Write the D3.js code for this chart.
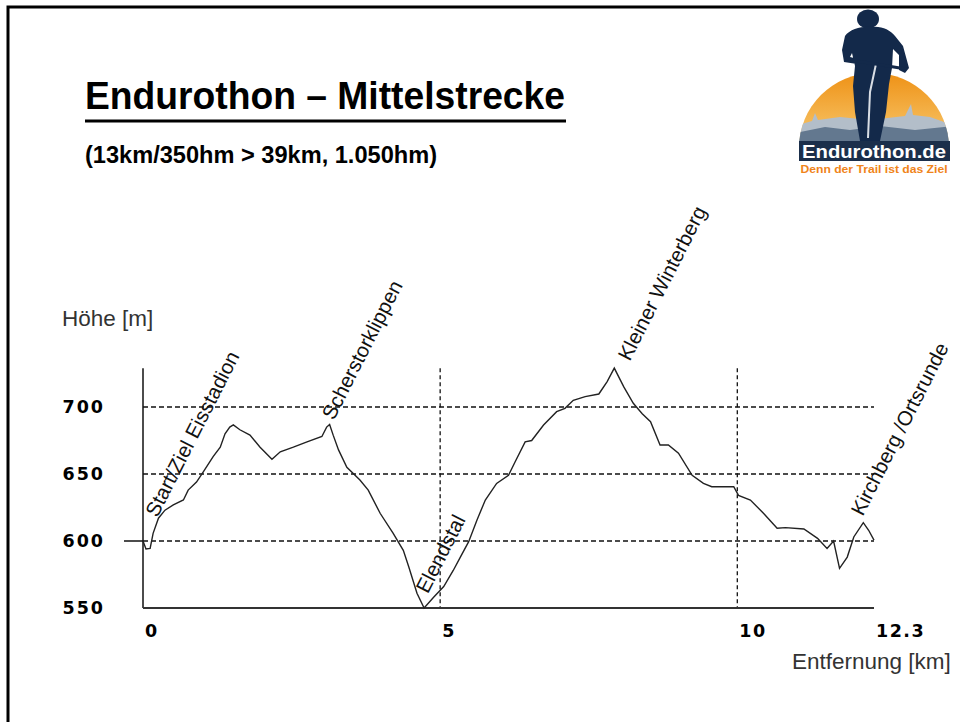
<!DOCTYPE html>
<html>
<head>
<meta charset="utf-8">
<script src="https://cdn.jsdelivr.net/npm/d3@7"></script>
<style>
    html, body { margin: 0; padding: 0; background: #fff; }
    svg { display: block; }
</style>
</head>
<body>
<div id="chart"></div>
<script>
// Höhenprofil (km / m)
const profileKm = [0.00, 0.05, 0.12, 0.17, 0.26, 0.37, 0.51, 0.68, 0.76, 0.90, 1.02, 1.18, 1.30, 1.38, 1.46, 1.52,
    1.63, 1.80, 1.97, 2.17, 2.31, 2.53, 2.76, 3.01, 3.09, 3.14, 3.20, 3.29, 3.43, 3.65, 3.79, 3.99, 4.21, 4.38,
    4.47, 4.61, 4.73, 4.89, 5.06, 5.22, 5.34, 5.48, 5.62, 5.76, 5.95, 6.15, 6.26, 6.43, 6.54, 6.74, 6.96, 7.10,
    7.24, 7.44, 7.67, 7.81, 7.93, 8.09, 8.25, 8.40, 8.54, 8.70, 8.84, 9.01, 9.24, 9.43, 9.57, 9.94, 10.02, 10.22,
    10.44, 10.67, 10.81, 11.12, 11.35, 11.51, 11.62, 11.72, 11.85, 11.96, 12.12, 12.21, 12.30];
const profileElev = [600, 594, 594.5, 605.7, 617, 623, 627, 630.6, 638, 644, 652, 663, 670, 680, 685, 686.6,
    683, 679, 670, 661, 666.6, 670, 674, 678, 685, 687, 679, 668, 655, 645.5, 638, 620.7, 605.7, 593,
    581, 561, 550, 558, 566, 578, 588, 599.5, 615.7, 630.6, 643, 649, 659, 674, 675, 686.6, 696.5, 699,
    705, 707.7, 709.7, 719, 729, 715, 702.8, 695, 689, 671.6, 671.6, 665.5, 649, 643, 640.5, 640.5, 634, 630.6,
    620.7, 609.5, 610, 609, 602, 594.5, 600, 579.6, 588, 603, 613.7, 608, 600.7];

// Ortsnamen und ihre Lage (km / m)
const placeNames = ["Start/Ziel Eisstadion", "Scherstorklippen", "Elendstal", "Kleiner Winterberg", "Kirchberg /Ortsrunde"];
const placeKm = [0.24, 3.21, 4.79, 8.19, 12.11];
const placeElev = [617, 689.5, 560, 733.5, 618];

const yTicks = [550, 600, 650, 700];
const yGrid = [600, 650, 700];
const xTicks = [0, 5, 10, 12.3];
const xGrid = [5, 10];
const xMax = 12.3;
const yTop = 729;

const title = "Endurothon – Mittelstrecke";
const subtitle = "(13km/350hm > 39km, 1.050hm)";

const width = 960, height = 722;
const left = 143, right = 874, bottom = 608, top700 = 407;
const sans = "Liberation Sans, Arial, sans-serif";

const svg = d3.select("#chart")
    .append("svg")
    .attr("width", width)
    .attr("height", height)
    .attr("viewBox", [0, 0, width, height]);

const x = d3.scaleLinear().domain([0, xMax]).range([left, right]);
const y = d3.scaleLinear().domain([550, 700]).range([bottom, top700]);

// Rahmen
svg.append("path")
    .attr("d", `M8,${height} L8,7 L${width},7`)
    .attr("fill", "none")
    .attr("stroke", "#000")
    .attr("stroke-width", 3);

// Titel
svg.append("text")
    .attr("x", 85).attr("y", 109)
    .attr("font-family", sans)
    .attr("font-weight", "bold")
    .attr("font-size", 39)
    .attr("textLength", 480)
    .attr("lengthAdjust", "spacingAndGlyphs")
    .text(title);

svg.append("rect")
    .attr("x", 85).attr("y", 119.5)
    .attr("width", 481).attr("height", 3)
    .attr("fill", "#000");

svg.append("text")
    .attr("x", 85).attr("y", 163)
    .attr("font-family", sans)
    .attr("font-weight", "bold")
    .attr("font-size", 23.5)
    .attr("textLength", 352)
    .attr("lengthAdjust", "spacingAndGlyphs")
    .text(subtitle);

// Logo
const logo = svg.append("g").attr("class", "logo");
const defs = svg.append("defs");

const sun = defs.append("linearGradient")
    .attr("id", "sun-grad")
    .attr("x1", 0).attr("x2", 0).attr("y1", 0).attr("y2", 1);
sun.append("stop").attr("offset", "0%").attr("stop-color", "#ee8f12");
sun.append("stop").attr("offset", "100%").attr("stop-color", "#f9cf78");

defs.append("clipPath").attr("id", "logo-clip")
    .append("circle")
    .attr("cx", 874).attr("cy", 148).attr("r", 75);

const logoInner = logo.append("g").attr("clip-path", "url(#logo-clip)");

logoInner.append("rect")
    .attr("x", 795).attr("y", 70).attr("width", 160).attr("height", 80)
    .attr("fill", "url(#sun-grad)");

logoInner.append("path")
    .attr("d", "M795,126 L812,121 L815,113 L818,120 L840,117 L870,120 L905,116 L911,104 L913,115 L930,117 L955,126 L955,150 L795,150 Z")
    .attr("fill", "#b3bec9");

logoInner.append("path")
    .attr("d", "M795,133 L825,127 L850,130 L880,126 L915,130 L955,126 L955,150 L795,150 Z")
    .attr("fill", "#63788f");

logo.append("rect")
    .attr("x", 799).attr("y", 141).attr("width", 151).attr("height", 20)
    .attr("fill", "#1b2f4b");

// Fahrer
const rider = "#13294a";
logo.append("ellipse")
    .attr("cx", 868).attr("cy", 19).attr("rx", 11).attr("ry", 9.5)
    .attr("fill", rider);
logo.append("path")
    .attr("d", "M845,36 C850,29 862,26 872,27 C882,26 890,30 895,36 L903,46 L909,68 L905,73 L899,70 L899,55 L893,49 L892,68 L889,84 L886,112 L880,141 L860,141 L855,112 L853,86 L855,66 L852,53 L850,57 L858,59 L857,64 L844,62 L842,50 Z")
    .attr("fill", rider);
logo.append("path")
    .attr("d", "M876,64 L870,92 L868,138")
    .attr("stroke", "#d9dee5")
    .attr("stroke-width", 2)
    .attr("fill", "none");
logo.append("path")
    .attr("d", "M857,61 L906,69")
    .attr("stroke", rider)
    .attr("stroke-width", 3);

logo.append("text")
    .attr("x", 874).attr("y", 158)
    .attr("text-anchor", "middle")
    .attr("font-family", sans)
    .attr("font-weight", "bold")
    .attr("font-size", 19)
    .attr("textLength", 144)
    .attr("lengthAdjust", "spacingAndGlyphs")
    .attr("fill", "#fff")
    .text("Endurothon.de");

logo.append("text")
    .attr("x", 874).attr("y", 173)
    .attr("text-anchor", "middle")
    .attr("font-family", sans)
    .attr("font-weight", "bold")
    .attr("font-size", 11)
    .attr("textLength", 147)
    .attr("lengthAdjust", "spacingAndGlyphs")
    .attr("fill", "#f0841a")
    .text("Denn der Trail ist das Ziel");

// Gitter
const grid = svg.append("g").attr("class", "grid");

grid.selectAll(".hgrid")
    .data(yGrid)
    .join("line")
    .attr("class", "hgrid")
    .attr("x1", x(0)).attr("x2", x(xMax))
    .attr("y1", d => y(d)).attr("y2", d => y(d))
    .attr("stroke", "#111")
    .attr("stroke-width", 1.3)
    .attr("stroke-dasharray", "5,3");

grid.selectAll(".vgrid")
    .data(xGrid)
    .join("line")
    .attr("class", "vgrid")
    .attr("x1", d => x(d)).attr("x2", d => x(d))
    .attr("y1", y(yTop)).attr("y2", y(550))
    .attr("stroke", "#111")
    .attr("stroke-width", 1.3)
    .attr("stroke-dasharray", "4,3");

// Achsen
svg.append("line")
    .attr("x1", x(0)).attr("x2", x(0))
    .attr("y1", y(yTop)).attr("y2", y(550))
    .attr("stroke", "#111")
    .attr("stroke-width", 1.5);

svg.append("line")
    .attr("x1", x(0)).attr("x2", x(xMax))
    .attr("y1", y(550)).attr("y2", y(550))
    .attr("stroke", "#333")
    .attr("stroke-width", 2);

svg.append("line")
    .attr("x1", x(0) - 19).attr("x2", x(0))
    .attr("y1", y(600)).attr("y2", y(600))
    .attr("stroke", "#111")
    .attr("stroke-width", 1.5);

const tickFont = "DejaVu Sans, Verdana, sans-serif";

svg.append("g")
    .selectAll("text")
    .data(yTicks)
    .join("text")
    .attr("x", 105)
    .attr("y", d => y(d) + 6)
    .attr("text-anchor", "end")
    .attr("font-family", tickFont)
    .attr("font-weight", "bold")
    .attr("font-size", 17.5)
    .attr("letter-spacing", 2)
    .text(d => d);

svg.append("g")
    .selectAll("text")
    .data(xTicks)
    .join("text")
    .attr("x", d => x(d) + 2)
    .attr("y", 637)
    .attr("font-family", tickFont)
    .attr("font-weight", "bold")
    .attr("font-size", 17.5)
    .attr("letter-spacing", 1.5)
    .text(d => d);

svg.append("text")
    .attr("x", 62).attr("y", 326)
    .attr("font-family", sans)
    .attr("font-size", 22.5)
    .attr("fill", "#333")
    .text("Höhe [m]");

svg.append("text")
    .attr("x", 792).attr("y", 669)
    .attr("font-family", sans)
    .attr("font-size", 22.5)
    .attr("fill", "#333")
    .text("Entfernung [km]");

// Profil
const profile = profileKm.map((k, i) => [k, profileElev[i]]);
const line = d3.line()
    .x(d => x(d[0]))
    .y(d => y(d[1]));

svg.append("path")
    .datum(profile)
    .attr("d", line)
    .attr("fill", "none")
    .attr("stroke", "#222")
    .attr("stroke-width", 1.4);

// Ortsnamen
svg.append("g")
    .selectAll("text")
    .data(placeNames)
    .join("text")
    .attr("transform", (d, i) => `translate(${x(placeKm[i])},${y(placeElev[i])}) rotate(-63)`)
    .attr("font-family", sans)
    .attr("font-size", 20.5)
    .attr("fill", "#111")
    .text(d => d);
</script>
</body>
</html>
